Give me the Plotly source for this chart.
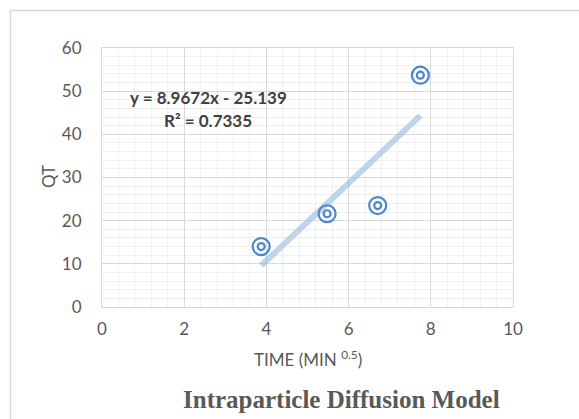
import plotly.graph_objects as go

# Data (time in min^0.5, qt)
time_sqrt = [3.873, 5.477, 6.708, 7.746]
qt = [14.0, 21.6, 23.5, 53.7]

slope = 8.9672
intercept = -25.139
r2 = 0.7335

x_ticks = [0, 2, 4, 6, 8, 10]
y_ticks = [0, 10, 20, 30, 40, 50, 60]

W, H = 579, 419
L, R, T, B = 102, 66, 48, 112
pw, ph = W - L - R, H - T - B

def px_x(p):
    return (p - L) / pw

def px_y(p):
    return (H - B - p) / ph

trend_x = [min(time_sqrt), max(time_sqrt)]
trend_y = [slope * v + intercept for v in trend_x]

blue = "#4a86c8"
fig = go.Figure()
fig.add_trace(go.Scatter(x=trend_x, y=trend_y, mode="lines",
                         line=dict(color="rgba(150,185,225,0.6)", width=6),
                         showlegend=False, hoverinfo="skip"))
fig.add_trace(go.Scatter(x=time_sqrt, y=qt, mode="markers",
                         marker=dict(symbol="circle-open", size=17,
                                     line=dict(color=blue, width=2.2), color=blue),
                         showlegend=False))
fig.add_trace(go.Scatter(x=time_sqrt, y=qt, mode="markers",
                         marker=dict(symbol="circle-open", size=7,
                                     line=dict(color=blue, width=2.2), color=blue),
                         showlegend=False))

font_family = "Lato, Open Sans, sans-serif"
tickfont = dict(family=font_family, size=17, color="#595959")
fig.update_xaxes(range=[0, 10], tickvals=x_ticks, ticktext=[str(v) for v in x_ticks],
                 showgrid=True, gridcolor="#d9d9d9", gridwidth=1,
                 minor=dict(dtick=0.4, showgrid=True, gridcolor="#efefef", gridwidth=1),
                 zeroline=False, showline=True, linecolor="#d9d9d9", linewidth=1, mirror=True,
                 ticks="", tickfont=tickfont, ticklabelstandoff=7)
fig.update_yaxes(range=[0, 60], tickvals=y_ticks, ticktext=[str(v) for v in y_ticks],
                 showgrid=True, gridcolor="#d9d9d9", gridwidth=1,
                 minor=dict(dtick=2, showgrid=True, gridcolor="#efefef", gridwidth=1),
                 zeroline=False, showline=True, linecolor="#d9d9d9", linewidth=1, mirror=True,
                 ticks="", tickfont=tickfont, ticklabelstandoff=16)

annots = [
    dict(text="<b>y = 8.9672x - 25.139</b>", x=px_x(208), y=px_y(98)),
    dict(text="<b>R² = 0.7335</b>", x=px_x(208), y=px_y(120)),
]
for a in annots:
    fig.add_annotation(xref="paper", yref="paper", x=a["x"], y=a["y"], text=a["text"],
                       showarrow=False, xanchor="center", yanchor="middle",
                       font=dict(family=font_family, size=17, color="#404040"))

fig.add_annotation(xref="paper", yref="paper", x=px_x(308), y=px_y(358),
                   text="TIME (MIN <sup>0.5</sup>)", showarrow=False,
                   xanchor="center", yanchor="middle",
                   font=dict(family=font_family, size=17, color="#595959"))
fig.add_annotation(xref="paper", yref="paper", x=px_x(48), y=px_y(177),
                   text="QT", showarrow=False, textangle=-90,
                   xanchor="center", yanchor="middle",
                   font=dict(family=font_family, size=17, color="#595959"))
fig.add_annotation(xref="paper", yref="paper", x=px_x(341), y=px_y(399),
                   text="<b>Intraparticle Diffusion Model</b>", showarrow=False,
                   xanchor="center", yanchor="middle",
                   font=dict(family="Liberation Serif, Times New Roman, serif", size=25, color="#595959"))

fig.add_shape(type="rect", xref="paper", yref="paper",
              x0=px_x(10.5), y0=px_y(10.5), x1=px_x(700), y1=px_y(700),
              line=dict(color="#d9d9d9", width=1.5), fillcolor="rgba(0,0,0,0)", layer="below")

fig.update_layout(width=W, height=H, margin=dict(l=L, r=R, t=T, b=B),
                  paper_bgcolor="white", plot_bgcolor="white")

fig.write_html("out.html")
